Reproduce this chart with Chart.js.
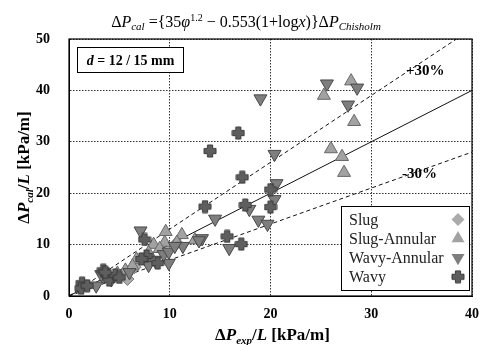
<!DOCTYPE html>
<html><head><meta charset="utf-8">
<script src="https://cdn.jsdelivr.net/npm/chart.js@4/dist/chart.umd.min.js"></script>
<style>html,body{margin:0;padding:0;background:#fff}</style>
</head><body>
<canvas id="c" width="489" height="345"></canvas>
<script>
// ---- data ----
const seriesNames = ['Slug', 'Slug-Annular', 'Wavy-Annular', 'Wavy'];
const slug = [[5.8,3.3],[10.7,10.3],[4.8,4.2],[6.5,5.6]];
const slugAnnular = [[25.3,39.0],[28.0,41.8],[28.3,33.9],[26.0,28.6],[27.1,27.1],[27.3,24.0],
  [9.6,12.5],[11.2,11.9],[8.4,10.0],[9.5,10.4],[10.7,10.4],[12.5,10.9],[6.7,7.1],[5.6,5.0],
  [6.3,5.8],[4.8,4.4],[7.9,8.4],[3.7,3.8],[9.0,9.2]];
const wavyAnnular = [[19.0,38.4],[25.6,41.3],[28.6,40.5],[27.7,37.2],[20.4,27.6],
  [20.6,21.9],[20.4,18.8],[17.9,16.9],[18.8,14.8],[19.7,14.0],[14.5,15.0],[15.9,9.3],
  [13.2,11.2],[12.9,10.8],[7.1,12.7],[9.9,6.4],[9.4,8.1],[11.3,9.7],[7.9,6.0],[9.9,8.6],
  [2.7,2.0],[3.2,4.2],[10.5,9.7],[8.5,7.0],[6.0,4.6],[4.2,3.2]];
const wavy = [[16.8,31.7],[14.0,28.2],[17.2,23.1],[20.0,20.7],[13.5,17.4],[17.5,17.7],
  [20.0,17.3],[15.7,11.6],[17.1,10.1],[7.5,11.0],[7.7,7.8],[8.8,6.4],[3.8,4.1],[4.0,3.1],
  [1.3,2.5],[1.2,1.5],[3.4,5.0],[4.6,4.1],[1.8,2.0],[5.0,3.6],[7.2,7.2],[3.6,4.6]];
const perfectLine = [[0,0],[40,40]];
const plus30Line = [[0,0],[38.46,50]];
const minus30Line = [[0,0],[40,28]];
const xTicks = [0,10,20,30,40];
const yTicks = [0,10,20,30,40,50];
const bandLabels = ['+30%', '-30%'];
const sizeLabel = ['d', ' = 12 / 15 mm'];

// ---- helpers ----
const toPts = a => a.map(p => ({x: p[0], y: p[1]}));
function makePlus() {
  const cv = document.createElement('canvas');
  cv.width = 14; cv.height = 14;
  const g = cv.getContext('2d');
  const c = 7, a = 6, b = 2.6;
  g.beginPath();
  const pts = [[c-b,c-a],[c+b,c-a],[c+b,c-b],[c+a,c-b],[c+a,c+b],[c+b,c+b],[c+b,c+a],[c-b,c+a],[c-b,c+b],[c-a,c+b],[c-a,c-b],[c-b,c-b]];
  pts.forEach((p,i)=> i? g.lineTo(p[0],p[1]) : g.moveTo(p[0],p[1]));
  g.closePath();
  g.fillStyle = '#5e5e5e'; g.fill();
  g.strokeStyle = '#3a3a3a'; g.lineWidth = 1; g.stroke();
  return cv;
}
const plusImg = makePlus();
const SERIF = '"Liberation Serif", "Times New Roman", serif';

function drawRich(ctx, runs, x, y, align) {
  let w = 0;
  runs.forEach(r => { ctx.font = r.f; w += ctx.measureText(r.t).width; });
  let cx = align === 'center' ? x - w/2 : x;
  runs.forEach(r => { ctx.font = r.f; ctx.fillText(r.t, cx, y + (r.dy||0)); cx += ctx.measureText(r.t).width; });
}

const markerStyles = [
  {pointStyle:'rectRot', radius:6.5, rotation:0, bg:'#ababab', bd:'#7a7a7a'},
  {pointStyle:'triangle', radius:7.5, rotation:0, bg:'#a2a2a2', bd:'#686868'},
  {pointStyle:'triangle', radius:7.5, rotation:180, bg:'#7e7e7e', bd:'#484848'},
  {pointStyle:plusImg, radius:7, rotation:0, bg:'#5e5e5e', bd:'#3a3a3a'}
];
const seriesData = [slug, slugAnnular, wavyAnnular, wavy];

const decor = {
  id: 'decor',
  afterDraw(chart) {
    const ctx = chart.ctx, a = chart.chartArea;
    ctx.save();
    // plot frame
    ctx.strokeStyle = '#000'; ctx.lineWidth = 1.2; ctx.setLineDash([]);
    ctx.strokeRect(a.left, a.top, a.right - a.left, a.bottom - a.top);
    ctx.fillStyle = '#000'; ctx.textBaseline = 'alphabetic';
    // title formula
    const f16 = '16px ' + SERIF, i16 = 'italic 16px ' + SERIF, i11 = 'italic 11px ' + SERIF, f10 = '10px ' + SERIF;
    drawRich(ctx, [
      {t:'Δ', f:f16}, {t:'P', f:i16}, {t:'cal', f:i11, dy:3}, {t:' ={35', f:f16}, {t:'φ', f:i16},
      {t:'1.2', f:f10, dy:-6}, {t:' − 0.553(1+log', f:f16}, {t:'x', f:i16}, {t:')}Δ', f:f16},
      {t:'P', f:i16}, {t:'Chisholm', f:i11, dy:3}
    ], 246, 27, 'center');
    // x title
    const b17 = 'bold 17px ' + SERIF, bi17 = 'bold italic 17px ' + SERIF, bi11 = 'bold italic 11px ' + SERIF;
    drawRich(ctx, [
      {t:'Δ', f:b17}, {t:'P', f:bi17}, {t:'exp', f:bi11, dy:4}, {t:'/', f:b17}, {t:'L', f:bi17}, {t:' [kPa/m]', f:b17}
    ], (a.left + a.right)/2 + 2, 340, 'center');
    // y title
    ctx.save();
    ctx.translate(29, (a.top + a.bottom)/2);
    ctx.rotate(-Math.PI/2);
    drawRich(ctx, [
      {t:'Δ', f:b17}, {t:'P', f:bi17}, {t:'cal', f:bi11, dy:4}, {t:'/', f:b17}, {t:'L', f:bi17}, {t:' [kPa/m]', f:b17}
    ], 0, 0, 'center');
    ctx.restore();
    // size box
    ctx.fillStyle = '#fff'; ctx.fillRect(77, 47, 106, 25);
    ctx.strokeStyle = '#000'; ctx.lineWidth = 1; ctx.strokeRect(77.5, 47.5, 106, 25);
    ctx.fillStyle = '#000';
    drawRich(ctx, [{t:sizeLabel[0], f:'bold italic 14px ' + SERIF}, {t:sizeLabel[1], f:'bold 14px ' + SERIF}], 130.5, 65, 'center');
    // band labels
    ctx.font = 'bold 15px ' + SERIF; ctx.textAlign = 'left';
    ctx.fillText(bandLabels[0], 406, 75);
    ctx.fillText(bandLabels[1], 402, 178);
    // legend
    const L = {x: 341, y: 206, w: 128, h: 84};
    ctx.fillStyle = '#fff'; ctx.fillRect(L.x, L.y, L.w, L.h);
    ctx.strokeStyle = '#000'; ctx.lineWidth = 1; ctx.strokeRect(L.x + 0.5, L.y + 0.5, L.w, L.h);
    ctx.font = '16px ' + SERIF; ctx.textBaseline = 'middle';
    seriesNames.forEach((n, i) => {
      const yy = 219.5 + i * 19.1;
      ctx.fillStyle = '#222';
      ctx.fillText(n, 349, yy + 1);
      const m = markerStyles[i];
      ctx.fillStyle = m.bg; ctx.strokeStyle = m.bd; ctx.lineWidth = 1;
      Chart.helpers.drawPoint(ctx, {pointStyle: m.pointStyle, radius: m.radius, rotation: m.rotation}, 458, yy);
    });
    ctx.restore();
  }
};

const datasets = seriesData.map((d, i) => ({
  label: seriesNames[i], type: 'scatter', data: toPts(d),
  pointStyle: markerStyles[i].pointStyle, pointRadius: markerStyles[i].radius,
  pointRotation: markerStyles[i].rotation,
  backgroundColor: markerStyles[i].bg, borderColor: markerStyles[i].bd, borderWidth: 1,
  order: 4 - i
}));
[[perfectLine, []], [plus30Line, [4,3]], [minus30Line, [4,3]]].forEach(([d, dash]) => {
  datasets.push({type:'line', data: toPts(d), borderColor:'#111', borderWidth:1, borderDash: dash,
    pointRadius:0, fill:false, showLine:true, order: 10});
});

const tickFont = {family: SERIF, size: 14, weight: 'bold'};
new Chart(document.getElementById('c'), {
  data: {datasets},
  options: {
    responsive: false, animation: false, devicePixelRatio: 1,
    layout: {padding: {top: 39, right: 10, left: 0, bottom: 0}},
    plugins: {legend: {display: false}, tooltip: {enabled: false}},
    scales: {
      x: {type:'linear', min:0, max:40,
        afterBuildTicks: s => { s.ticks = xTicks.map(v => ({value: v})); },
        ticks: {font: tickFont, color:'#000', padding: 10},
        grid: {color: '#333', drawTicks: false, lineWidth: 1},
        border: {display: true, color:'#000', dash: [1.5, 1.5]},
        afterFit: s => { s.height = 49; }
      },
      y: {type:'linear', min:0, max:50,
        afterBuildTicks: s => { s.ticks = yTicks.map(v => ({value: v})); },
        ticks: {font: tickFont, color:'#000', padding: 19},
        grid: {color: '#333', drawTicks: false, lineWidth: 1},
        border: {display: true, color:'#000', dash: [1.5, 1.5]},
        afterFit: s => { s.width = 69; }
      }
    }
  },
  plugins: [decor]
});
</script>
</body></html>
